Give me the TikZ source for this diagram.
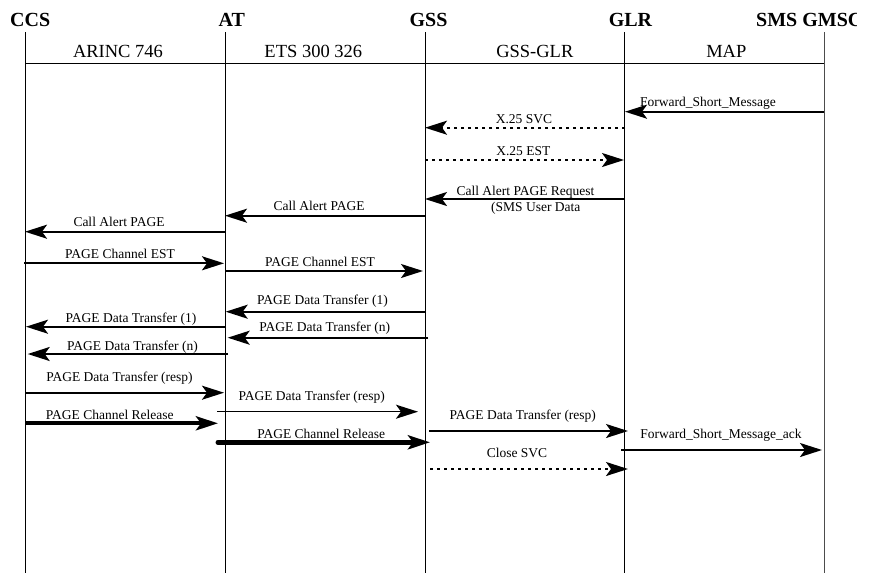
\documentclass[tikz,border=0pt]{standalone}
\usepackage{fontspec}
\setmainfont{Liberation Serif}
\usetikzlibrary{arrows.meta}
\newcommand\seqmsg[5]{%
  \coordinate (#1-a) at (#2,#4);
  \coordinate (#1-b) at (#3,#4);
  \draw[#5] (#1-a) -- (#1-b);}
\begin{document}
\begin{tikzpicture}[x=1pt,y=-1pt,
  hdr/.style={inner sep=0pt,anchor=base,font=\fontsize{20}{24}\selectfont\bfseries},
  proto/.style={inner sep=0pt,anchor=base,font=\fontsize{18.5}{22}\selectfont},
  lbl/.style={inner sep=0pt,anchor=base,font=\fontsize{13.5}{16}\selectfont},
  life/.style={line width=1pt,black},
  tip/.style={-{Stealth[length=22pt,width=14pt,inset=5pt]}},
  msgline/.style={tip,line width=2pt},
  thinmsg/.style={tip,line width=1.5pt},
  dotmsg/.style={tip,line width=2pt,dash pattern=on 3pt off 4pt},
  relA/.style={tip,line width=4pt},
  relB/.style={tip,line width=5pt,line cap=round}]
\useasboundingbox (0,0) rectangle (869,573);
\fill[white] (0,0) rectangle (869,573);
% entity headers
\node[hdr,anchor=base west] (hccs) at (10,26.7) {CCS};
\node[hdr] (hat) at (231.7,26.7) {AT};
\node[hdr] (hgss) at (428.5,26.7) {GSS};
\node[hdr] (hglr) at (630.5,26.7) {GLR};
\begin{scope}
  \clip (740,0) rectangle (856,40);
  \node[hdr,anchor=base west] (hsms) at (756,26.7) {SMS GMSC};
\end{scope}
% lifelines
\coordinate (ccsT) at (25,32);  \coordinate (ccsB) at (25,573);
\coordinate (atT) at (225,32);  \coordinate (atB) at (225,573);
\coordinate (gssT) at (425,32); \coordinate (gssB) at (425,573);
\coordinate (glrT) at (624.5,32); \coordinate (glrB) at (624.5,573);
\coordinate (smsT) at (824,32); \coordinate (smsB) at (824,573);
\draw[life] (ccsT) -- (ccsB);
\draw[life] (atT) -- (atB);
\draw[life] (gssT) -- (gssB);
\draw[life] (glrT) -- (glrB);
\draw[life,black!70] (smsT) -- (smsB);
\coordinate (hl-a) at (25,63.5); \coordinate (hl-b) at (824,63.5);
\draw[life] (hl-a) -- (hl-b);
% protocol labels
\node[proto] (parinc) at (118,57.3) {ARINC 746};
\node[proto] (pets) at (313.3,57.3) {ETS 300 326};
\node[proto] (pgg) at (534.8,57.3) {GSS-GLR};
\node[proto] (pmap) at (726.3,57.3) {MAP};
% messages
\seqmsg{m1}{824}{625}{111.7}{msgline}
\node[lbl] (l1) at (708,106.7) {Forward\_Short\_Message};
\seqmsg{m2}{625}{425}{127.7}{dotmsg}
\node[lbl] (l2) at (524,123.3) {X.25 SVC};
\seqmsg{m3}{425}{624}{160}{dotmsg}
\node[lbl] (l3) at (523.3,155.7) {X.25 EST};
\seqmsg{m4}{625}{425}{199}{msgline}
\node[lbl] (l4) at (525.5,195) {Call Alert PAGE Request};
\node[lbl] (l4b) at (535.8,211) {(SMS User Data};
\seqmsg{m5}{425}{225}{215.7}{msgline}
\node[lbl] (l5) at (319,210.7) {Call Alert PAGE};
\seqmsg{m6}{225}{25}{231.7}{msgline}
\node[lbl] (l6) at (119,226.7) {Call Alert PAGE};
\seqmsg{m7}{24}{224}{263.3}{msgline}
\node[lbl] (l7) at (120,258.3) {PAGE Channel EST};
\seqmsg{m8}{225}{423}{271}{msgline}
\node[lbl] (l8) at (320,266) {PAGE Channel EST};
\seqmsg{m9}{426}{225.7}{311.7}{msgline}
\node[lbl] (l9) at (322.5,304.3) {PAGE Data Transfer (1)};
\seqmsg{m10}{226}{26}{326.7}{msgline}
\node[lbl] (l10) at (131,322.7) {PAGE Data Transfer (1)};
\seqmsg{m11}{428}{227.7}{337.7}{msgline}
\node[lbl] (l11) at (324.7,331.7) {PAGE Data Transfer (n)};
\seqmsg{m12}{228}{27.7}{354}{msgline}
\node[lbl] (l12) at (132.5,350) {PAGE Data Transfer (n)};
\seqmsg{m13}{25}{224}{392.7}{msgline}
\node[lbl] (l13) at (119.5,381.7) {PAGE Data Transfer (resp)};
\seqmsg{m14}{217}{418}{411.7}{thinmsg}
\node[lbl] (l14) at (311.7,400.7) {PAGE Data Transfer (resp)};
\seqmsg{m15}{25}{218}{423.3}{relA}
\node[lbl] (l15) at (109.8,419) {PAGE Channel Release};
\seqmsg{m16}{218}{430}{442.3}{relB}
\node[lbl] (l16) at (321.2,438.3) {PAGE Channel Release};
\seqmsg{m17}{429}{628}{431}{msgline}
\node[lbl] (l17) at (522.8,419.3) {PAGE Data Transfer (resp)};
\seqmsg{m18}{621}{822}{450}{msgline}
\node[lbl] (l18) at (721,438.3) {Forward\_Short\_Message\_ack};
\seqmsg{m19}{430}{628}{469}{dotmsg}
\node[lbl] (l19) at (517,457.3) {Close SVC};
\end{tikzpicture}
\end{document}
